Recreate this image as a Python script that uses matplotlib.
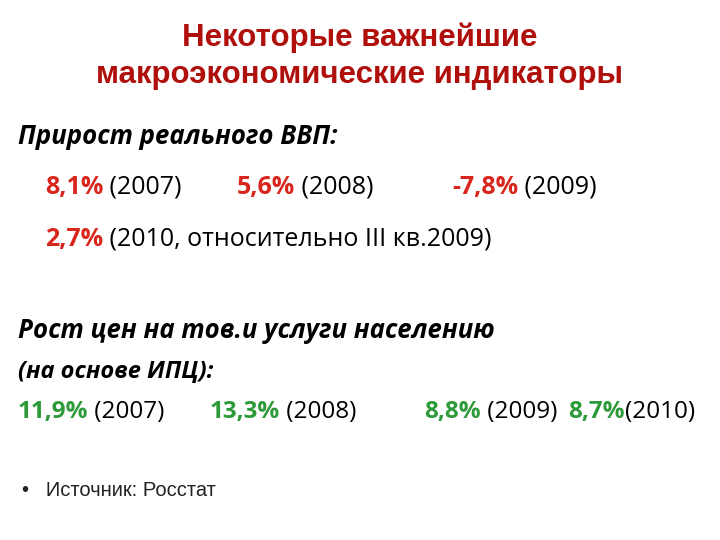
import matplotlib
matplotlib.use("Agg")
import matplotlib.pyplot as plt

RED = '#D9261C'
GREEN = '#2E9A3A'
TITLE_RED = '#B0100C'

title_lines = ['Некоторые важнейшие', 'макроэкономические индикаторы']
gdp_header = 'Прирост реального ВВП:'
gdp_values = ['8,1%', '5,6%', '-7,8%']
gdp_years = [' (2007)', ' (2008)', ' (2009)']
gdp_extra = ['2,7%', ' (2010, относительно III кв.2009)']
cpi_header = ['Рост цен на тов.и услуги населению', '(на основе ИПЦ):']
cpi_values = ['11,9%', '13,3%', '8,8%', '8,7%']
cpi_years = [' (2007)', ' (2008)', ' (2009)', '(2010)']
source = '•   Источник: Росстат'

fig = plt.figure(figsize=(7.2, 5.4), dpi=100)
renderer = fig.canvas.get_renderer()
BODY = 'Open Sans'


def px(x, y):
    return x / 720, 1 - y / 540


def chain(x, y, pieces, size):
    # draw pieces one after another on the same baseline
    for txt, color, weight, style in pieces:
        t = fig.text(*px(x, y), txt, color=color, fontsize=size, fontweight=weight,
                     fontstyle=style, family=BODY, va='baseline', ha='left')
        bb = t.get_window_extent(renderer)
        x += bb.width


for i, line in enumerate(title_lines):
    fig.text(*px(360, 46 + i * 37), line, ha='center', va='baseline',
             fontsize=22.5, fontweight='bold', color=TITLE_RED, family='Liberation Sans')

fig.text(*px(18, 144), gdp_header, fontsize=18.5, fontweight='bold', fontstyle='italic',
         family=BODY, va='baseline')

gdp_x = [45, 237, 452]
for xx, v, yr in zip(gdp_x, gdp_values, gdp_years):
    chain(xx, 194, [(v, RED, 'bold', 'normal'), (yr, 'black', 'normal', 'normal')], 18)

chain(45, 246, [(gdp_extra[0], RED, 'bold', 'normal'),
                (gdp_extra[1], 'black', 'normal', 'normal')], 18)

for i, line in enumerate(cpi_header):
    fig.text(*px(18, 338 + i * 40), line, fontsize=18.5 if i == 0 else 17,
             fontweight='bold', fontstyle='italic', family=BODY, va='baseline')

cpi_x = [18, 210, 424, 568]
for xx, v, yr in zip(cpi_x, cpi_values, cpi_years):
    chain(xx, 418, [(v, GREEN, 'bold', 'normal'), (yr, 'black', 'normal', 'normal')], 17.5)

fig.text(*px(22, 496), source, fontsize=14.5, family='Liberation Sans', va='baseline',
         color='#222222')

fig.savefig('out.png', dpi=100)
